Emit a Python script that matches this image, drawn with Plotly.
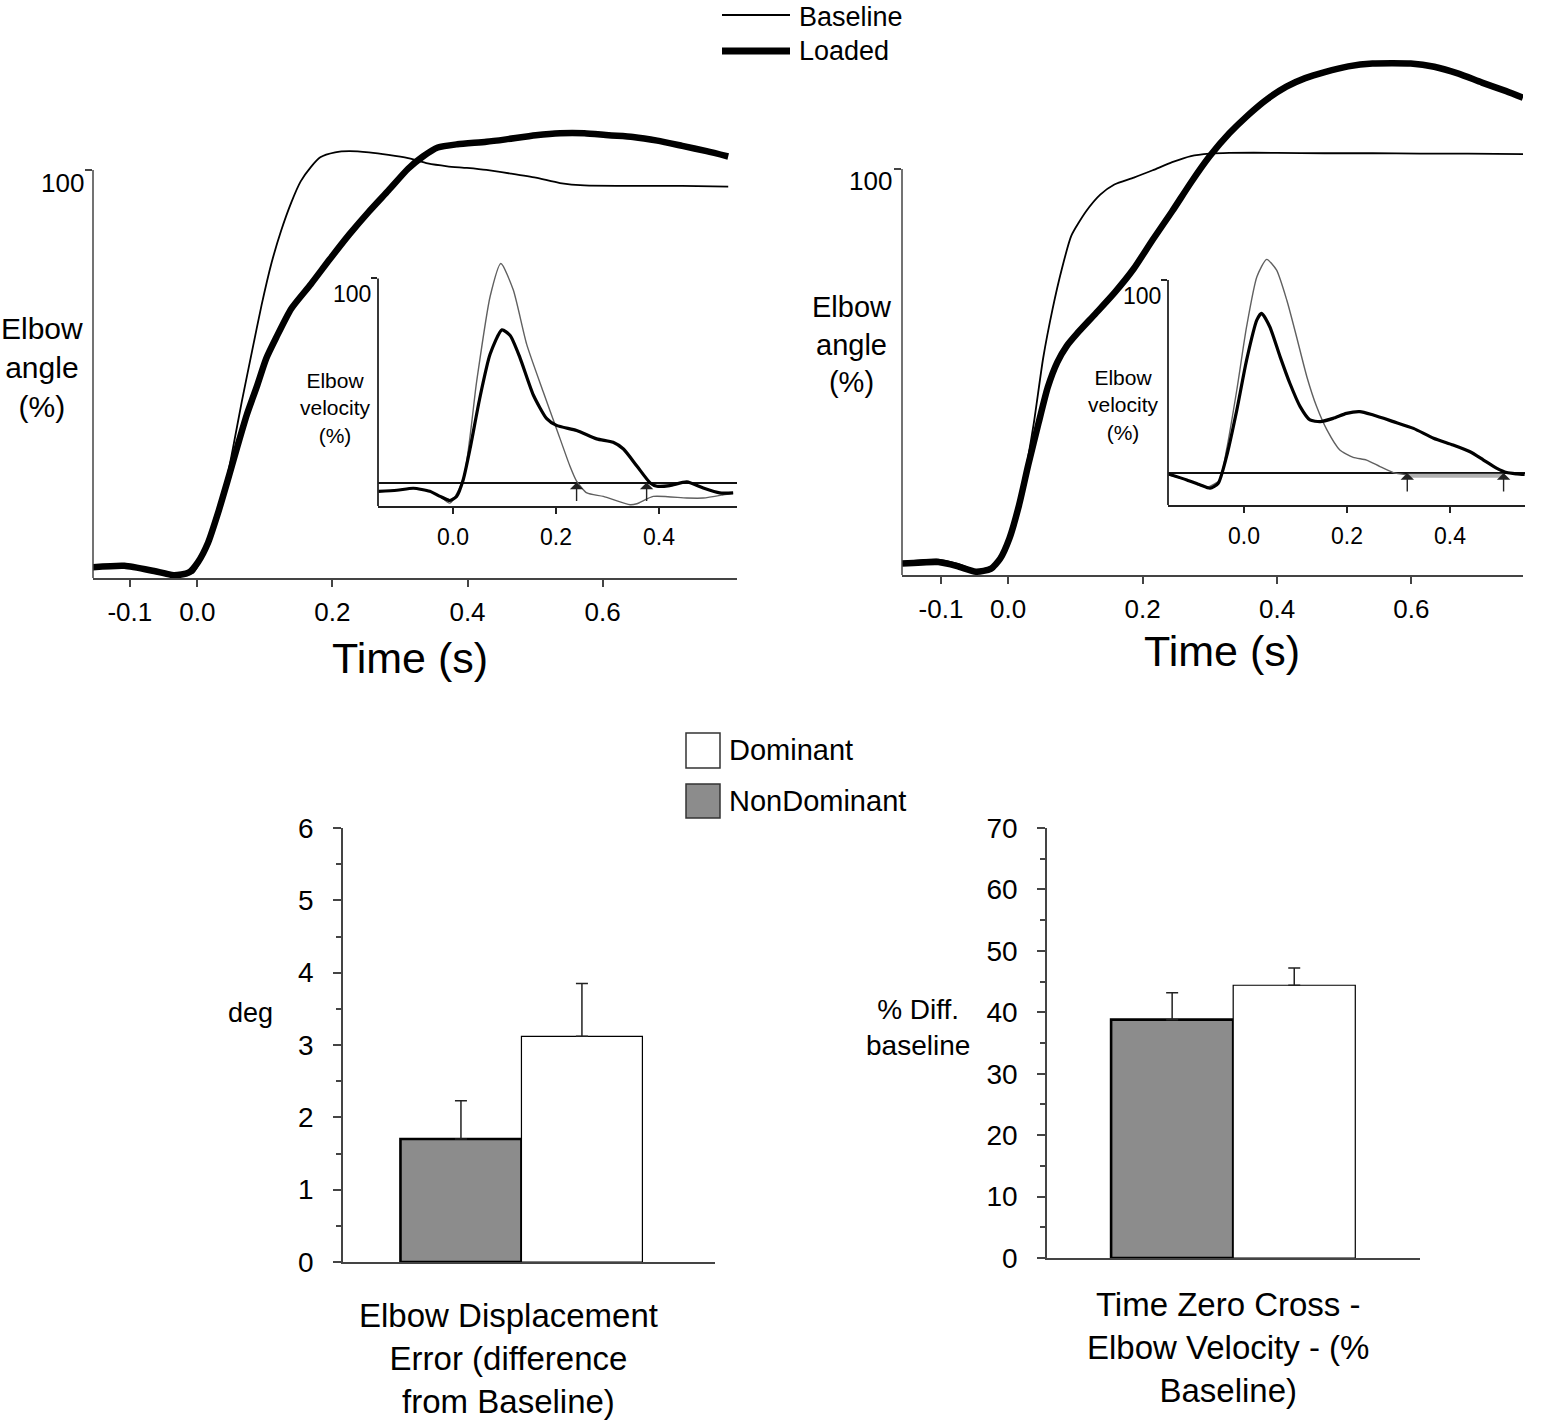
import plotly.graph_objects as go

W, H = 1547, 1427

# ---- panel A (left): elbow angle, % of final, time in s ----
t_a_base = [-0.158, -0.108, -0.057, -0.021, -0.006, 0.008, 0.023, 0.037, 0.052, 0.066, 0.081, 0.095,
            0.110, 0.124, 0.139, 0.153, 0.168, 0.182, 0.204, 0.225, 0.254, 0.283, 0.312, 0.341,
            0.370, 0.399, 0.428, 0.464, 0.501, 0.537, 0.573, 0.645, 0.718, 0.786]
ang_a_base = [2.4, 3.0, 1.7, 0.9, 1.3, 5.2, 11.3, 19.1, 31.2, 43.4, 55.6, 66.8,
              77.3, 85.1, 92.0, 97.2, 100.7, 103.1, 104.3, 104.6, 104.3, 103.7, 102.9, 101.6,
              100.9, 100.5, 100.0, 99.1, 98.1, 96.8, 96.2, 96.1, 96.1, 95.9]
t_a_load = [-0.158, -0.108, -0.064, -0.035, -0.013, 0.001, 0.016, 0.030, 0.044, 0.059, 0.073, 0.088,
            0.102, 0.117, 0.139, 0.168, 0.196, 0.225, 0.254, 0.283, 0.312, 0.334, 0.356, 0.385,
            0.428, 0.457, 0.501, 0.537, 0.573, 0.609, 0.645, 0.681, 0.718, 0.754, 0.786]
ang_a_load = [2.6, 3.0, 1.7, 0.7, 1.3, 3.9, 8.7, 15.6, 23.4, 32.1, 39.9, 46.9,
              53.8, 59.0, 66.0, 72.0, 78.1, 84.2, 89.8, 95.0, 100.3, 103.3, 105.5, 106.3,
              106.9, 107.5, 108.5, 109.0, 109.0, 108.5, 108.1, 107.2, 105.9, 104.6, 103.3]

# inset A: elbow velocity (%)
tv_a_base = [-0.145, -0.109, -0.077, -0.045, -0.025, -0.006, 0.020, 0.046, 0.072, 0.093, 0.117, 0.143,
             0.175, 0.201, 0.227, 0.240, 0.260, 0.292, 0.344, 0.357, 0.389, 0.454, 0.486, 0.525, 0.544]
vel_a_base = [-4.3, -3.8, -2.8, -4.3, -6.8, -10.1, 1.5, 49.6, 91.0, 107.3, 94.4, 67.8,
              44.6, 26.4, 8.1, 0.7, -5.1, -6.8, -10.9, -10.4, -6.8, -7.6, -7.6, -6.0, -5.1]
tv_a_load = [-0.145, -0.109, -0.077, -0.045, -0.025, -0.006, 0.007, 0.020, 0.033, 0.052, 0.072, 0.095,
             0.111, 0.130, 0.156, 0.182, 0.201, 0.240, 0.279, 0.311, 0.331, 0.357, 0.383, 0.396,
             0.421, 0.454, 0.486, 0.518, 0.544]
vel_a_load = [-4.3, -3.8, -2.8, -4.3, -6.8, -8.8, -6.8, 1.5, 16.4, 41.3, 62.8, 74.8,
              72.0, 61.2, 42.9, 31.3, 28.0, 25.5, 21.4, 19.7, 16.4, 8.1, -0.2, -1.8,
              -1.5, 0.3, -2.7, -5.1, -5.1]
zero_cross_a = [0.240, 0.376]

# ---- panel B (right) ----
t_b_base = [-0.158, -0.104, -0.076, -0.048, -0.026, -0.005, 0.009, 0.023, 0.038, 0.052, 0.066, 0.080,
            0.094, 0.116, 0.137, 0.158, 0.187, 0.215, 0.244, 0.272, 0.300, 0.329, 0.400, 0.471,
            0.542, 0.613, 0.684, 0.766]
ang_b_base = [3.2, 3.8, 2.8, 1.2, 2.0, 6.0, 13.1, 23.2, 37.3, 53.4, 65.5, 75.5,
              83.6, 89.6, 93.7, 96.2, 97.9, 99.7, 101.7, 103.2, 103.8, 104.0, 104.0, 103.9,
              103.9, 103.8, 103.8, 103.7]
t_b_load = [-0.158, -0.104, -0.076, -0.048, -0.026, -0.012, 0.002, 0.016, 0.030, 0.045, 0.059, 0.073,
            0.087, 0.102, 0.130, 0.158, 0.187, 0.215, 0.244, 0.272, 0.300, 0.329, 0.357, 0.386,
            0.414, 0.442, 0.471, 0.506, 0.542, 0.599, 0.634, 0.670, 0.705, 0.741, 0.766]
ang_b_load = [2.8, 3.2, 2.2, 0.8, 1.5, 4.0, 9.1, 17.1, 27.2, 37.3, 46.3, 52.4,
              56.4, 59.4, 64.4, 69.5, 75.5, 82.6, 89.6, 96.7, 103.2, 108.8, 113.3, 117.3,
              120.3, 122.4, 123.9, 125.3, 126.0, 126.0, 125.2, 123.5, 121.3, 119.2, 117.6]

tv_b_base = [-0.147, -0.111, -0.072, -0.047, -0.034, -0.014, 0.005, 0.025, 0.044, 0.063, 0.083, 0.102,
             0.122, 0.141, 0.161, 0.186, 0.212, 0.238, 0.264, 0.290, 0.316]
vel_b_base = [-1.0, -3.6, -7.4, -3.6, 11.9, 43.0, 75.8, 101.7, 110.7, 105.2, 89.6, 70.6,
              49.9, 34.4, 22.3, 11.9, 8.1, 6.7, 3.3, 0.2, -1.0]
tv_b_load = [-0.147, -0.111, -0.085, -0.066, -0.050, -0.034, -0.014, 0.005, 0.025, 0.034, 0.050, 0.070,
             0.089, 0.109, 0.128, 0.148, 0.173, 0.199, 0.225, 0.251, 0.290, 0.329, 0.368, 0.406,
             0.439, 0.465, 0.491, 0.510, 0.530, 0.545]
vel_b_load = [-0.5, -3.6, -6.2, -7.9, -5.3, 8.5, 32.6, 58.5, 79.3, 82.7, 75.8, 60.3,
              46.5, 34.4, 27.5, 26.6, 28.3, 30.9, 31.8, 30.0, 26.6, 23.1, 18.0, 14.5,
              11.0, 6.7, 2.4, 0.2, -0.5, -0.8]
zero_cross_b = [0.317, 0.504]
gap_level_b = [-1.5, -1.5]

# ---- bar charts ----
groups = ["NonDominant", "Dominant"]
disp_error = [1.70, 3.12]
disp_error_sd = [0.53, 0.73]
zero_cross_diff = [38.8, 44.4]
zero_cross_diff_sd = [4.4, 2.8]
bar_colors = ["#8c8c8c", "white"]
bar_edge = [2.6, 1.2]

FONT = "Liberation Sans"


def dom_x(a, b):
    return [a / W, b / W]


def dom_y(top, bottom):
    return [1 - bottom / H, 1 - top / H]


fig = go.Figure()


def line(x, y, ax, width, color="black"):
    fig.add_trace(go.Scatter(x=x, y=y, mode="lines", xaxis=ax[0], yaxis=ax[1], showlegend=False,
                             line=dict(color=color, width=width, shape="spline", smoothing=0.6),
                             hoverinfo="skip"))


# main curves
line(t_a_base, ang_a_base, ("x", "y"), 1.8)
line(t_a_load, ang_a_load, ("x", "y"), 6.5)
line(t_b_base, ang_b_base, ("x3", "y3"), 1.8)
line(t_b_load, ang_b_load, ("x3", "y3"), 6.5)
# insets
line(tv_a_base, vel_a_base, ("x2", "y2"), 1.4, "#606060")
line(tv_a_load, vel_a_load, ("x2", "y2"), 3.2)
fig.add_trace(go.Scatter(x=zero_cross_b, y=gap_level_b, mode="lines", xaxis="x4", yaxis="y4",
                         showlegend=False, line=dict(color="#b0b0b0", width=4), hoverinfo="skip"))
line(tv_b_base, vel_b_base, ("x4", "y4"), 1.4, "#606060")
line(tv_b_load, vel_b_load, ("x4", "y4"), 3.2)

# bars
for i, g in enumerate(groups):
    fig.add_trace(go.Bar(x=[g], y=[disp_error[i]], xaxis="x5", yaxis="y5", width=1, showlegend=False,
                         marker=dict(color=bar_colors[i], line=dict(color="black", width=bar_edge[i])),
                         error_y=dict(type="data", symmetric=False, array=[disp_error_sd[i]],
                                      arrayminus=[0], color="#222", thickness=1.5, width=6)))
    fig.add_trace(go.Bar(x=[g], y=[zero_cross_diff[i]], xaxis="x6", yaxis="y6", width=1, showlegend=False,
                         marker=dict(color=bar_colors[i], line=dict(color="black", width=bar_edge[i])),
                         error_y=dict(type="data", symmetric=False, array=[zero_cross_diff_sd[i]],
                                      arrayminus=[0], color="#222", thickness=1.5, width=6)))

# automargin off everywhere, otherwise plotly shrinks the plot area
main_x = dict(showline=True, linecolor="#444", linewidth=2, ticks="outside", ticklen=7, tickwidth=1.5,
              tickcolor="#444", tickvals=[-0.1, 0, 0.2, 0.4, 0.6],
              ticktext=["-0.1", "0.0", "0.2", "0.4", "0.6"], tickfont=dict(size=26, color="black"),
              ticklabelstandoff=3, showgrid=False, zeroline=False, automargin=False)
main_y = dict(showline=False, ticks="outside", ticklen=7, tickwidth=1.5, tickcolor="#444", tickvals=[100],
              showticklabels=False, showgrid=False, zeroline=False, automargin=False)
inset_x = dict(showline=True, linecolor="#222", linewidth=1.8, ticks="outside", ticklen=6, tickwidth=1.5,
               tickcolor="#222", tickvals=[0, 0.2, 0.4], ticktext=["0.0", "0.2", "0.4"],
               tickfont=dict(size=23, color="black"), ticklabelstandoff=3, showgrid=False, zeroline=False,
               automargin=False)
inset_y = dict(showline=False, ticks="outside", ticklen=6, tickwidth=1.5, tickcolor="#222", tickvals=[100],
               showticklabels=False, showgrid=False, zeroline=True, zerolinecolor="#111", zerolinewidth=1.8,
               automargin=False)
bar_x = dict(showline=True, linecolor="#444", linewidth=1.5, ticks="", showticklabels=False,
             showgrid=False, zeroline=False, type="category", categoryarray=groups, automargin=False)
bar_y = dict(showline=True, linecolor="#444", linewidth=1.5, ticks="outside", ticklen=8, tickwidth=1.5,
             tickcolor="#444", tickfont=dict(size=28, color="black"), ticklabelstandoff=14,
             showgrid=False, zeroline=False, automargin=False)

vel_a_range = [-11.5, 110]
vel_b_range = [-16.6, 111.4]

fig.update_layout(
    width=W, height=H, margin=dict(l=0, r=0, t=0, b=0, pad=0), autosize=False,
    paper_bgcolor="white", plot_bgcolor="rgba(0,0,0,0)",
    font=dict(family=FONT, color="black"),
    barmode="overlay",
    xaxis=dict(main_x, domain=dom_x(93, 737), range=[-0.1545, 0.799], anchor="y"),
    yaxis=dict(main_y, domain=dom_y(121, 578), range=[0, 112], anchor="x"),
    xaxis2=dict(inset_x, domain=dom_x(378, 737), range=[-0.1456, 0.5515], anchor="y2"),
    yaxis2=dict(inset_y, domain=dom_y(258, 506), range=vel_a_range, anchor="x2"),
    xaxis3=dict(main_x, domain=dom_x(902, 1523), range=[-0.158, 0.766], anchor="y3"),
    yaxis3=dict(main_y, domain=dom_y(55, 575), range=[0, 128.1], anchor="x3"),
    xaxis4=dict(inset_x, domain=dom_x(1168, 1525), range=[-0.1476, 0.5456], anchor="y4"),
    yaxis4=dict(inset_y, domain=dom_y(258, 505), range=vel_b_range, anchor="x4"),
    xaxis5=dict(bar_x, domain=dom_x(343, 715), range=[-0.975, 2.1], anchor="y5"),
    yaxis5=dict(bar_y, domain=dom_y(828, 1262), range=[0, 6], dtick=1, anchor="x5",
                minor=dict(dtick=0.5, ticks="outside", ticklen=5, tickcolor="#444")),
    xaxis6=dict(bar_x, domain=dom_x(1047, 1420), range=[-1.025, 2.03], anchor="y6"),
    yaxis6=dict(bar_y, domain=dom_y(828, 1258), range=[0, 70], dtick=10, anchor="x6",
                minor=dict(dtick=5, ticks="outside", ticklen=5, tickcolor="#444")),
)

# y axis "brackets" that stop at 100
shapes = [
    dict(type="line", xref="x domain", yref="y", x0=0, x1=0, y0=0, y1=100, line=dict(color="#444", width=1.5)),
    dict(type="line", xref="x3 domain", yref="y3", x0=0, x1=0, y0=0, y1=100, line=dict(color="#444", width=1.5)),
    dict(type="line", xref="x2 domain", yref="y2", x0=0, x1=0, y0=vel_a_range[0], y1=100,
         line=dict(color="#222", width=1.8)),
    dict(type="line", xref="x4 domain", yref="y4", x0=0, x1=0, y0=vel_b_range[0], y1=100,
         line=dict(color="#222", width=1.8)),
    # line legend
    dict(type="line", xref="paper", yref="paper", x0=722 / W, x1=790 / W, y0=1 - 15 / H, y1=1 - 15 / H,
         line=dict(color="black", width=2)),
    dict(type="line", xref="paper", yref="paper", x0=722 / W, x1=790 / W, y0=1 - 51 / H, y1=1 - 51 / H,
         line=dict(color="black", width=7)),
    # bar legend
    dict(type="rect", xref="paper", yref="paper", x0=686 / W, x1=720 / W, y0=1 - 768 / H, y1=1 - 733 / H,
         fillcolor="white", line=dict(color="#333", width=1.5)),
    dict(type="rect", xref="paper", yref="paper", x0=686 / W, x1=720 / W, y0=1 - 818 / H, y1=1 - 784 / H,
         fillcolor="#8c8c8c", line=dict(color="#333", width=1.5)),
]
fig.update_layout(shapes=shapes)

ann = []


def text(px, py, s, size, xanchor="center", yanchor="middle"):
    ann.append(dict(x=px / W, y=1 - py / H, xref="paper", yref="paper", text=s, showarrow=False,
                    font=dict(size=size, family=FONT, color="black"), xanchor=xanchor, yanchor=yanchor,
                    align="center"))


text(797, 17, "Baseline", 27, "left")
text(797, 51, "Loaded", 27, "left")
text(42, 367, "Elbow<br>angle<br>(%)", 30)
text(852, 345, "Elbow<br>angle<br>(%)", 29)
text(335, 408, "Elbow<br>velocity<br>(%)", 21)
text(1123, 405, "Elbow<br>velocity<br>(%)", 21)
text(410, 658, "Time (s)", 43)
text(1222, 651, "Time (s)", 43)
text(86, 183, "100", 26, "right")
text(894, 181, "100", 26, "right")
text(373, 294, "100", 23, "right")
text(1163, 296, "100", 23, "right")
text(727, 750, "Dominant", 29, "left")
text(727, 801, "NonDominant", 29, "left")
text(250, 1013, "deg", 27)
text(918, 1027, "% Diff.<br>baseline", 28)
text(508, 1358, "Elbow Displacement<br>Error (difference<br>from Baseline)", 33)
text(1228, 1347, "Time Zero Cross -<br>Elbow Velocity - (%<br>Baseline)", 33)

# zero-crossing arrows in the insets
for xa, ya, crosses in (("x2", "y2", zero_cross_a), ("x4", "y4", zero_cross_b)):
    for c in crosses:
        ann.append(dict(x=c, y=0, xref=xa, yref=ya, ax=0, ay=20, text="", showarrow=True,
                        arrowhead=1, arrowsize=1.6, arrowwidth=1.4, arrowcolor="#222"))

fig.update_layout(annotations=ann)

# page margin off so the figure sits at the window origin
fig.write_html("out.html", config={"displayModeBar": False},
               post_script="document.body.style.margin='0';")
